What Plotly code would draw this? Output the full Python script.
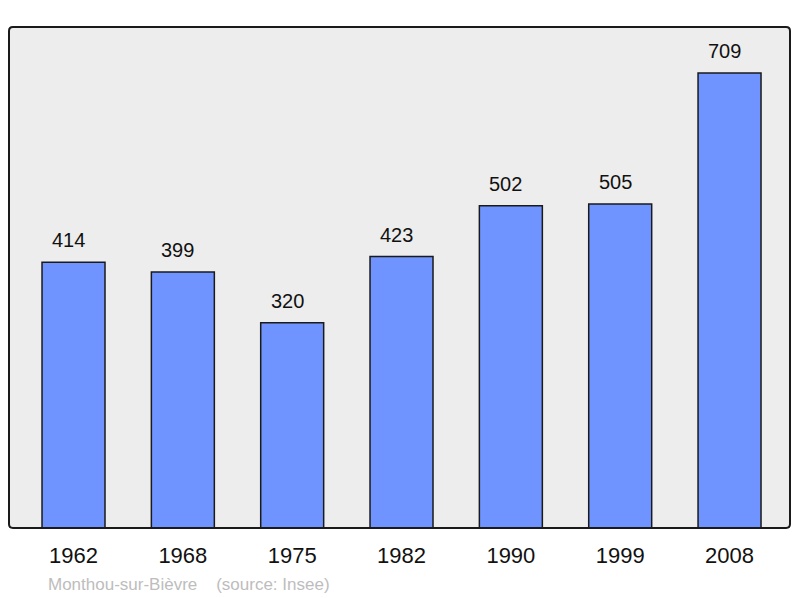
import plotly.graph_objects as go

years = ["1962", "1968", "1975", "1982", "1990", "1999", "2008"]
population = [414, 399, 320, 423, 502, 505, 709]
footer = "Monthou-sur-Bièvre\u00a0\u00a0\u00a0\u00a0(source: Insee)"

# page body has an 8px offset; compensate
W, H = 792, 590
L, R, T, B = 1, 10, 19, 70
PW, PH = W - L - R, H - T - B

xs = list(range(len(years)))
FONT = "Liberation Sans, Arial"

fig = go.Figure()
fig.add_trace(go.Bar(
    x=xs, y=population, width=0.576,
    marker=dict(color="#7094FF", line=dict(color="#1a1a1a", width=1.5)),
    hoverinfo="skip",
))

for x, v in zip(xs, population):
    fig.add_annotation(x=x, y=v, text=str(v), showarrow=False,
                       yanchor="bottom", yshift=9, xshift=-5,
                       font=dict(family=FONT, size=20, color="#111111"))

fig.add_annotation(xref="paper", yref="paper", x=(46 - 9) / PW, y=(528 - 584) / PH,
                   xanchor="left", yanchor="middle", showarrow=False, text=footer,
                   font=dict(family=FONT, size=17, color="#bdbdbd"))

# rounded frame
r = 0.005
ry = r * PW / PH
path = (f"M {r},0 L {1-r},0 Q 1,0 1,{ry} L 1,{1-ry} Q 1,1 {1-r},1 "
        f"L {r},1 Q 0,1 0,{1-ry} L 0,{ry} Q 0,0 {r},0 Z")
fig.add_shape(type="path", xref="paper", yref="paper", path=path,
              line=dict(color="#1a1a1a", width=2), layer="above")

fig.update_layout(
    width=W, height=H,
    margin=dict(l=L, r=R, t=T, b=B),
    paper_bgcolor="white", plot_bgcolor="#EDEDED",
    showlegend=False,
    xaxis=dict(range=[-0.59, 6.553], tickmode="array", tickvals=xs, ticktext=years,
               showgrid=False, zeroline=False, ticks="outside", ticklen=8,
               tickcolor="rgba(0,0,0,0)",
               tickfont=dict(family=FONT, size=22, color="#111111")),
    yaxis=dict(range=[0, 780.7], showgrid=False, zeroline=False, showticklabels=False),
)

fig.write_html("out.html")
